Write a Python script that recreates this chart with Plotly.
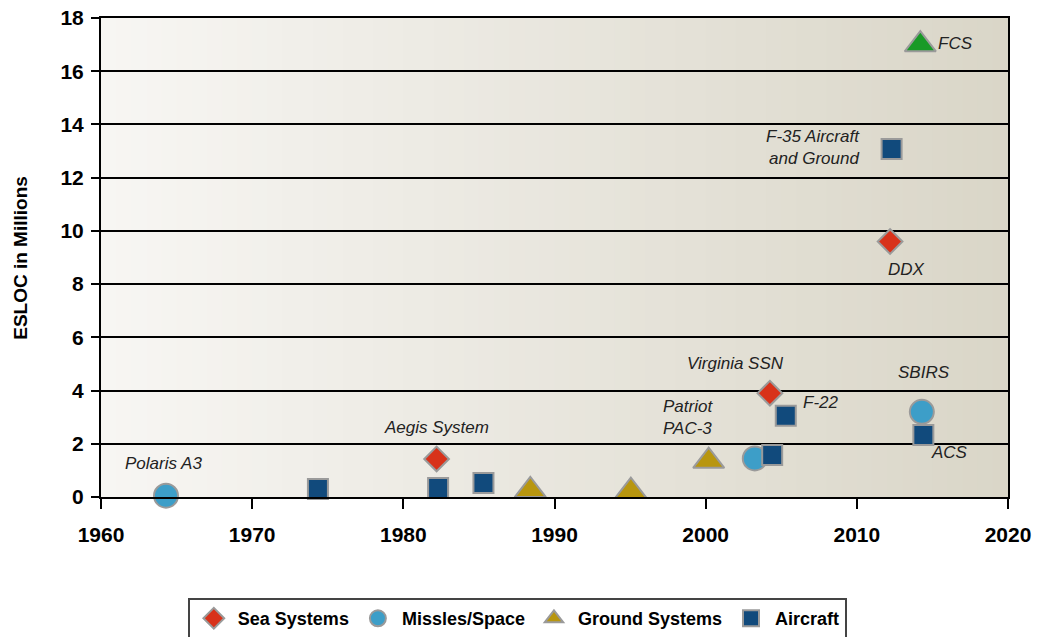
# ESLOC growth by platform - scatter

import plotly.graph_objects as go

sea_year = [1982.2, 2004.25, 2012.2]
sea_esloc = [1.43, 3.9, 9.6]

missile_year = [1964.3, 2003.25, 2014.3]
missile_esloc = [0.05, 1.45, 3.2]

ground_year = [1988.4, 1995.05, 2000.2]
ground_esloc = [0.25, 0.22, 1.35]

fcs_year = [2014.2]
fcs_esloc = [17.0]

aircraft_year = [1974.35, 1982.3, 1985.3, 2004.4, 2005.3, 2014.4, 2012.3]
aircraft_esloc = [0.3, 0.34, 0.53, 1.58, 3.05, 2.33, 13.08]

# label text, x, y of the marker it belongs to
labels = [
    ("Polaris A3", 1964.3, 0.05),
    ("Aegis System", 1982.2, 1.43),
    ("Patriot<br>PAC-3", 2000.2, 1.35),
    ("Virginia SSN", 2004.25, 3.9),
    ("F-22", 2005.3, 3.05),
    ("SBIRS", 2014.3, 3.2),
    ("ACS", 2014.4, 2.33),
    ("DDX", 2012.2, 9.6),
    ("F-35 Aircraft<br>and Ground", 2012.3, 13.08),
    ("FCS", 2014.2, 17.0),
]
# pixel offsets of each label from its marker
label_shift = {
    "Polaris A3": (-3, 32, "center"),
    "Aegis System": (0, 31, "center"),
    "Patriot<br>PAC-3": (-48, 44, "left"),
    "Virginia SSN": (-34, 30, "center"),
    "F-22": (15, 13, "left"),
    "SBIRS": (2, 39, "center"),
    "ACS": (6, -17, "left"),
    "DDX": (16, -28, "center"),
    "F-35 Aircraft<br>and Ground": (-30, 1, "right"),
    "FCS": (16, 1, "left"),
}

FONT = "Liberation Sans, Arial"
edge = dict(color="#9a9a9a", width=2)

fig = go.Figure()

fig.add_trace(go.Scatter(
    x=sea_year, y=sea_esloc, mode="markers", name="Sea Systems",
    marker=dict(symbol="diamond", size=19, color="#d8321a", line=edge),
    cliponaxis=False,
))
fig.add_trace(go.Scatter(
    x=missile_year, y=missile_esloc, mode="markers", name="Missles/Space",
    marker=dict(symbol="circle", size=24, color="#3d9ec8", line=edge),
    cliponaxis=False,
))
fig.add_trace(go.Scatter(
    x=ground_year, y=ground_esloc, mode="markers", name="Ground Systems",
    marker=dict(symbol="triangle-up", size=27, color="#b8960f", line=edge),
    cliponaxis=False,
))
fig.add_trace(go.Scatter(
    x=fcs_year, y=fcs_esloc, mode="markers", name="FCS", showlegend=False,
    marker=dict(symbol="triangle-up", size=27, color="#199a27", line=edge),
    cliponaxis=False,
))
fig.add_trace(go.Scatter(
    x=aircraft_year, y=aircraft_esloc, mode="markers", name="Aircraft",
    marker=dict(symbol="square", size=20, color="#114a7c", line=edge),
    cliponaxis=False,
))

for text, x, y in labels:
    dx, dy, anchor = label_shift[text]
    fig.add_annotation(
        x=x, y=y, text="<i>" + text + "</i>", showarrow=False,
        xshift=dx, yshift=dy, xanchor=anchor, align=anchor,
        font=dict(family=FONT, size=17, color="#222"),
    )

# background gradient, light on the left to tan on the right
n = 60
c0 = (247, 246, 243)
c1 = (218, 214, 200)
for i in range(n):
    t = i / (n - 1)
    col = tuple(round(a + (b - a) * t) for a, b in zip(c0, c1))
    fig.add_shape(
        type="rect", xref="x domain", yref="y domain",
        x0=i / n, x1=(i + 1) / n + 0.002, y0=0, y1=1,
        fillcolor="rgb(%d,%d,%d)" % col, line=dict(width=0), layer="below",
    )

fig.add_annotation(
    text="<b>ESLOC in Millions</b>", xref="paper", yref="paper",
    x=-0.089, y=0.5, xanchor="center", yanchor="middle",
    textangle=-90, showarrow=False,
    font=dict(family=FONT, size=19, color="black"),
)

fig.update_layout(
    width=1039, height=637,
    margin=dict(l=101, r=31, t=18, b=140, autoexpand=False),
    paper_bgcolor="white",
    plot_bgcolor="rgba(0,0,0,0)",
    font=dict(family=FONT, color="black"),
    showlegend=True,
    legend=dict(
        orientation="h", x=0.459, xanchor="center", y=-0.211, yanchor="top",
        bgcolor="white", bordercolor="#444", borderwidth=2,
        font=dict(family=FONT, size=18, color="black", weight="bold"),
        itemwidth=38,
    ),
)
fig.update_xaxes(
    range=[1960, 2020], dtick=10, showgrid=False, zeroline=False,
    automargin=False, ticklabeloverflow="allow",
    showline=True, linecolor="black", linewidth=2, mirror=True,
    ticks="outside", ticklen=10, tickwidth=2, tickcolor="black",
    ticklabelstandoff=8,
    tickfont=dict(family=FONT, size=21, color="black", weight="bold"),
)
fig.update_yaxes(
    range=[0, 18], dtick=2, showgrid=True, gridcolor="black", gridwidth=2,
    zeroline=False, automargin=False, ticklabeloverflow="allow",
    showline=True, linecolor="black", linewidth=2, mirror=True,
    ticks="outside", ticklen=8, tickwidth=2, tickcolor="black",
    ticklabelstandoff=3,
    tickfont=dict(family=FONT, size=21, color="black", weight="bold"),
)

# drop the page's default body margin so the figure fills the window
fig.write_html(
    "out.html",
    config={"displayModeBar": False},
    post_script="document.body.style.margin = '0';",
)
